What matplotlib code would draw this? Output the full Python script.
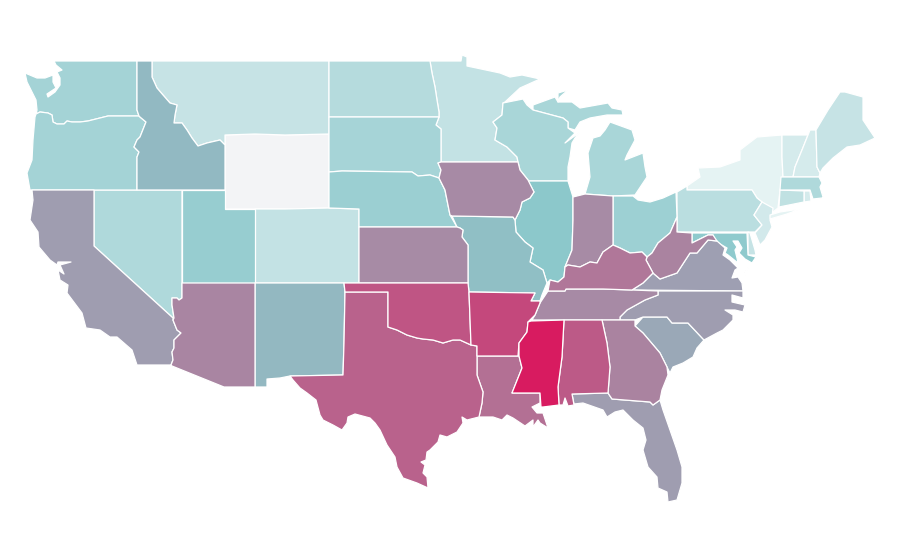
import numpy as np
import matplotlib
matplotlib.use("Agg")
import matplotlib.pyplot as plt
from matplotlib.collections import PolyCollection
from matplotlib.colors import LinearSegmentedColormap, Normalize

# Choropleth values per state (WY has no data)
states = ["WY","NY","VT","NH","RI","ME","MT","MN","CO","CT","PA","NJ","DE","ND","NV","MA","MI","MI2","MI3","WI","SD","WA","OR","OH","NE","UT","MD","IL",
          "MO","ID","NM","SC","VA","VA2","NC","FL","CA","TN","IN","KS","IA","AZ","GA","WV","KY","LA","TX","AL","OK","AR","MS","LI"]
values = [np.nan,9,14.6,14.6,14.6,20,20,21,21,22,24,16,20,26,28,28,30,30,30,30,31,32,32,34,35,36,39,40,
          43,45,45.5,51,54,54,55,55,55,61.5,61,61,61.5,63,64,64,68,70.5,75,78,80,84,100,9]

# Projected state outlines (map coordinates)
outlines = {
"WA":[(25,73),(37,78),(45,78),(53,75),(53,82),(56,88),(50,92),(47,94),(48,97),(55,92),(60,85),(60,78),(57,72),(62,70),(56,65),(54,61),(137,61),(137,110),(139,116),(108,116),(100,118),(88,121),(80,122),(72,122),(67,121),(64,124),(57,124),(53,122),(52,115),(48,113),(40,112),(36,114),(37,110),(36,100),(32,92),(27,82)],
"ID":[(137,61),(152,61),(152,77),(157,88),(163,95),(170,103),(177,105),(175,115),(174,123),(182,123),(187,130),(192,138),(198,146),(207,143),(220,140),(225,145),(225,190),(137,190),(137,157),(139,152),(134,147),(137,140),(140,137),(146,122),(140,117),(139,116),(137,110)],
"OR":[(36,114),(40,112),(48,113),(52,115),(53,122),(57,124),(64,124),(67,121),(72,122),(80,122),(88,121),(100,118),(108,116),(139,116),(140,117),(146,122),(140,137),(137,140),(134,147),(139,152),(137,157),(137,190),(30,190),(27,173),(32,160),(33,140),(35,117)],
"WY":[(225,135),(255,134),(285,135),(329,134),(329,208),(285,209),(225,209)],
"MT":[(152,61),(329,61),(329,134),(285,135),(255,134),(225,135),(225,145),(220,140),(207,143),(198,146),(192,138),(187,130),(182,123),(174,123),(175,115),(177,105),(170,103),(163,95),(157,88),(152,77)],
"ND":[(329,61),(430,61),(432,73),(435,87),(437,100),(439,112),(439,117),(329,117)],
"SD":[(329,117),(439,117),(436,125),(441,129),(441,162),(438,163),(441,170),(439,178),(430,175),(418,176),(412,172),(342,171),(329,172)],
"NE":[(329,172),(342,171),(412,172),(418,176),(430,175),(439,178),(445,190),(450,215),(457,227),(359,227),(359,209),(329,208)],
"CO":[(255,209),(285,209),(329,208),(359,209),(359,283),(255,283)],
"UT":[(182,190),(225,190),(225,209),(255,209),(255,283),(182,283)],
"NV":[(94,190),(182,190),(182,298),(179,300),(177,298),(172,298),(172,305),(174,318),(173,318),(94,246)],
"CA":[(32,190),(94,190),(94,246),(173,318),(173,320),(177,330),(181,333),(174,340),(174,348),(172,352),(173,360),(171,365),(137,365),(132,350),(117,337),(110,337),(100,330),(86,328),(82,313),(67,293),(68,285),(60,280),(58,270),(64,274),(60,265),(71,262),(58,262),(57,265),(50,260),(39,247),(38,232),(30,220),(33,200)],
"AZ":[(182,283),(255,283),(255,387),(224,387),(172,366),(171,365),(173,360),(172,352),(174,348),(174,340),(181,333),(177,330),(173,320),(174,318),(172,305),(172,298),(177,298),(179,300),(182,298)],
"NM":[(255,283),(344,283),(345,292),(344,343),(343,375),(290,376),(280,378),(267,379),(267,387),(255,387)],
"OK":[(344,283),(468,283),(469,292),(471,345),(460,340),(453,340),(443,343),(433,340),(423,339),(417,338),(407,335),(397,330),(388,327),(388,292),(345,292)],
"KS":[(359,227),(457,227),(460,228),(463,230),(462,237),(468,245),(468,283),(359,283)],
"MO":[(452,216),(513,217),(515,220),(516,232),(525,242),(533,248),(530,262),(543,270),(547,283),(542,295),(540,301),(531,301),(535,293),(469,292),(468,283),(468,245),(462,237),(463,230),(460,228),(457,227)],
"AR":[(469,292),(535,293),(531,301),(540,301),(540,303),(535,315),(528,322),(527,332),(519,343),(518,356),(477,356),(477,346),(471,345)],
"LA":[(477,356),(518,356),(519,356),(522,368),(512,393),(540,393),(540,403),(532,407),(537,413),(543,413),(548,428),(540,423),(538,420),(533,427),(533,420),(525,426),(513,418),(507,415),(502,420),(493,417),(479,417),(482,403),(483,392),(477,375)],
"TX":[(345,292),(388,292),(388,327),(397,330),(407,335),(417,338),(423,339),(433,340),(443,343),(453,340),(460,340),(471,345),(477,346),(477,375),(483,392),(482,403),(479,417),(467,420),(462,417),(463,423),(457,432),(447,437),(440,435),(438,442),(430,450),(427,452),(426,460),(421,462),(425,465),(423,473),(427,477),(428,488),(417,483),(403,478),(397,467),(395,457),(387,445),(380,430),(375,423),(370,418),(355,414),(348,417),(347,423),(342,430),(333,425),(323,420),(320,415),(316,400),(307,393),(300,388),(293,380),(290,376),(343,375),(344,343)],
"MN":[(430,61),(461,61),(462,55),(467,57),(467,66),(500,73),(510,77),(522,75),(540,79),(520,88),(505,102),(503,103),(502,115),(493,122),(497,128),(495,140),(507,147),(517,157),(518,162),(442,162),(441,162),(441,129),(436,125),(439,117),(439,112),(437,100),(435,87),(432,73)],
"IA":[(441,162),(518,162),(520,170),(528,180),(534,192),(530,198),(522,202),(520,210),(515,220),(513,217),(452,216),(450,215),(445,190),(439,178),(441,170),(438,163)],
"WI":[(503,103),(523,99),(527,105),(533,110),(563,118),(568,122),(568,128),(575,133),(565,143),(580,132),(575,138),(572,143),(570,157),(568,167),(568,181),(528,181),(528,180),(520,170),(518,162),(517,157),(507,147),(495,140),(497,128),(493,122),(502,115)],
"MI":[(533,110),(533,105),(555,97),(558,102),(572,102),(580,108),(608,103),(612,108),(622,110),(623,115),(607,115),(590,118),(580,122),(575,130),(568,128),(568,122),(563,118)],
"MI2":[(610,122),(632,130),(635,140),(627,155),(625,160),(643,153),(645,167),(647,177),(635,195),(613,196),(585,194),(590,177),(588,153),(593,138),(600,136),(605,130)],
"MI3":[(558,93),(568,90),(560,97),(558,102)],
"IL":[(528,181),(568,181),(573,197),(573,220),(572,250),(565,267),(564,277),(558,282),(550,280),(547,283),(543,270),(530,262),(533,248),(525,242),(516,232),(515,220),(520,210),(522,202),(530,198),(534,192)],
"IN":[(573,197),(585,194),(613,196),(613,245),(603,252),(597,263),(590,262),(580,267),(568,265),(565,267),(572,250),(573,220)],
"OH":[(613,196),(633,196),(638,200),(650,202),(663,198),(676,192),(677,217),(670,233),(658,243),(652,253),(647,257),(642,252),(630,253),(620,248),(613,245)],
"PA":[(677,192),(687,186),(687,190),(752,190),(757,198),(762,202),(754,215),(762,225),(755,232),(677,232)],
"NY":[(687,190),(687,186),(700,177),(698,168),(720,167),(740,160),(740,150),(757,137),(782,135),(782,157),(783,177),(780,190),(778,208),(773,212),(762,202),(757,198),(752,190)],
"LI":[(770,215),(780,212),(800,209),(787,214),(770,219)],
"VT":[(782,135),(808,135),(802,150),(795,167),(793,177),(783,177),(782,157)],
"NH":[(808,135),(810,130),(816,130),(817,167),(820,173),(819,177),(793,177),(795,167),(802,150)],
"ME":[(816,130),(828,110),(840,92),(845,92),(863,97),(863,120),(875,138),(860,145),(847,147),(833,158),(823,168),(820,173),(817,167)],
"MA":[(781,177),(819,177),(822,183),(820,187),(823,197),(830,196),(822,198),(813,199),(810,190),(780,190)],
"CT":[(780,190),(804,191),(804,202),(779,207)],
"RI":[(804,191),(810,191),(811,201),(804,202)],
"NJ":[(762,202),(773,208),(772,217),(770,220),(772,227),(765,240),(760,245),(755,233),(762,225),(754,215)],
"DE":[(748,232),(750,233),(755,250),(756,255),(748,255)],
"MD":[(692,233),(747,233),(748,255),(756,257),(752,263),(745,259),(739,253),(742,248),(738,241),(733,241),(737,247),(735,250),(737,258),(738,263),(728,255),(725,253),(727,248),(720,244),(715,240),(713,235),(708,235),(692,243)],
"WV":[(677,217),(670,233),(658,243),(652,253),(647,257),(646,260),(653,273),(660,279),(677,273),(690,253),(697,253),(708,240),(717,241),(713,235),(708,235),(692,243),(692,233),(677,232)],
"VA":[(632,290),(643,283),(653,273),(660,279),(677,273),(690,253),(697,253),(708,240),(717,241),(725,248),(723,255),(730,260),(738,268),(735,270),(732,278),(738,277),(742,283),(743,291)],
"VA2":[(750,265),(745,272),(743,282),(746,272)],
"KY":[(548,291),(550,280),(558,282),(564,277),(565,267),(568,265),(580,267),(590,262),(597,263),(603,252),(613,245),(620,248),(630,253),(642,252),(647,257),(646,260),(653,273),(643,283),(632,290),(603,289),(566,289),(565,291)],
"TN":[(532,320),(535,315),(540,303),(548,291),(565,291),(566,289),(603,289),(632,290),(658,291),(658,295),(645,300),(627,310),(620,317),(620,320),(602,320),(563,320)],
"MS":[(531,321),(564,320),(562,357),(558,387),(559,405),(543,407),(541,407),(540,393),(512,393),(522,368),(519,356),(519,343),(527,332),(528,322)],
"AL":[(564,320),(602,320),(607,343),(610,367),(608,393),(572,394),(574,405),(568,406),(565,398),(563,405),(559,405),(558,387),(562,357)],
"GA":[(602,320),(635,320),(635,326),(643,333),(660,353),(667,367),(668,375),(662,390),(660,400),(653,405),(650,402),(612,399),(608,393),(610,367),(607,343)],
"SC":[(635,326),(643,317),(667,317),(672,323),(688,323),(704,340),(697,348),(693,357),(683,363),(673,367),(670,373),(667,367),(660,353),(643,333)],
"NC":[(658,291),(743,291),(743,298),(732,295),(732,302),(745,305),(743,312),(735,310),(725,310),(733,315),(733,320),(723,330),(717,333),(704,340),(688,323),(672,323),(667,317),(643,317),(635,320),(620,320),(620,317),(627,310),(645,300),(658,295)],
"FL":[(572,394),(608,393),(612,399),(650,402),(653,405),(660,400),(663,410),(670,430),(677,450),(682,467),(682,483),(677,500),(668,502),(667,492),(658,488),(657,477),(648,467),(643,450),(646,440),(643,428),(633,420),(623,410),(615,412),(607,417),(603,410),(583,403),(574,404)],
}

cmap = LinearSegmentedColormap.from_list("rate", [(0.0, "#ffffff"), (0.4, "#8cc8cb"), (1.0, "#d81b60")])
cmap.set_bad("#f3f4f6")

fig = plt.figure(figsize=(9, 5.6), dpi=100)
ax = fig.add_axes([0, 0, 1, 1])
coll = PolyCollection([outlines[s] for s in states], array=np.ma.masked_invalid(values), cmap=cmap,
                      norm=Normalize(0, 100), edgecolors="white", linewidths=0.9)
ax.add_collection(coll)
ax.set_xlim(0, 900)
ax.set_ylim(560, 0)
ax.axis("off")
fig.savefig("out.png", dpi=100, facecolor="white")
